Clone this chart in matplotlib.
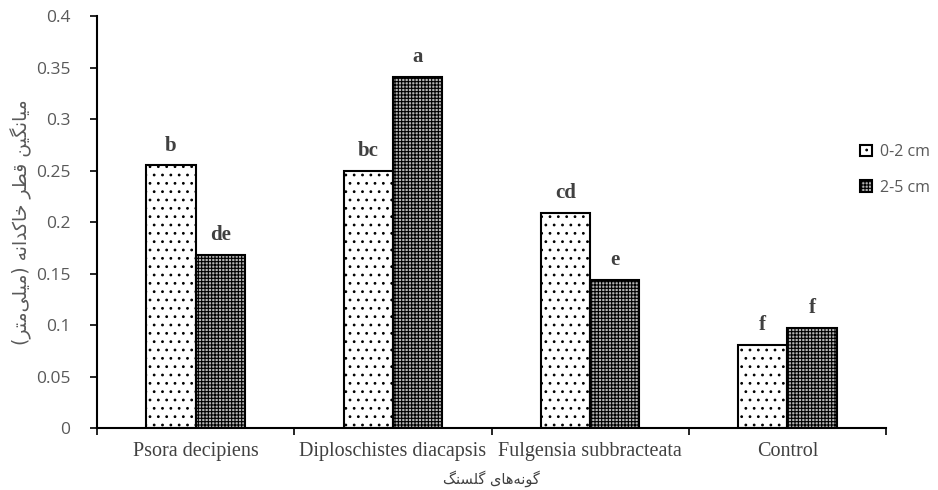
import matplotlib
matplotlib.use("Agg")
import matplotlib.pyplot as plt
import numpy as np

categories = ["Psora decipiens", "Diploschistes diacapsis", "Fulgensia subbracteata", "Control"]
series_names = ["0-2 cm", "2-5 cm"]
vals_02 = [0.255, 0.250, 0.209, 0.081]
vals_25 = [0.168, 0.341, 0.144, 0.097]
letters_02 = ["b", "bc", "cd", "f"]
letters_25 = ["de", "a", "e", "f"]
yticks = [0, 0.05, 0.1, 0.15, 0.2, 0.25, 0.3, 0.35, 0.4]
ytick_labels = ["0", "0.05", "0.1", "0.15", "0.2", "0.25", "0.3", "0.35", "0.4"]
ylabel_text = "میانگین قطر خاکدانه (میلی\u200cمتر)"
xlabel_text = "گونه\u200cهای گلسنگ"

# --- minimal Persian shaping (presentation forms) ---
FORMS = {
    # char: (iso, final, initial, medial)  None for initial/medial => right-joining
    "ا": ("\uFE8D", "\uFE8E", None, None),
    "د": ("\uFEA9", "\uFEAA", None, None),
    "ر": ("\uFEAD", "\uFEAE", None, None),
    "و": ("\uFEED", "\uFEEE", None, None),
    "م": ("\uFEE1", "\uFEE2", "\uFEE3", "\uFEE4"),
    "ن": ("\uFEE5", "\uFEE6", "\uFEE7", "\uFEE8"),
    "ق": ("\uFED5", "\uFED6", "\uFED7", "\uFED8"),
    "ط": ("\uFEC1", "\uFEC2", "\uFEC3", "\uFEC4"),
    "خ": ("\uFEA5", "\uFEA6", "\uFEA7", "\uFEA8"),
    "ل": ("\uFEDD", "\uFEDE", "\uFEDF", "\uFEE0"),
    "ت": ("\uFE95", "\uFE96", "\uFE97", "\uFE98"),
    "ه": ("\uFEE9", "\uFEEA", "\uFEEB", "\uFEEC"),
    "ی": ("\uFBFC", "\uFBFD", "\uFBFE", "\uFBFF"),
    "ک": ("\uFB8E", "\uFB8F", "\uFB90", "\uFB91"),
    "گ": ("\uFB92", "\uFB93", "\uFB94", "\uFB95"),
    "س": ("\uFEB1", "\uFEB2", "\uFEB3", "\uFEB4"),
}


def shape(text):
    out = []
    n = len(text)
    for i, ch in enumerate(text):
        if ch not in FORMS:
            out.append(ch)
            continue
        f = FORMS[ch]
        prev = text[i - 1] if i > 0 else None
        nxt = text[i + 1] if i + 1 < n else None
        jp = prev in FORMS and FORMS[prev][2] is not None
        jn = f[2] is not None and nxt in FORMS
        if jp and jn:
            out.append(f[3])
        elif jp:
            out.append(f[1])
        elif jn:
            out.append(f[2])
        else:
            out.append(f[0])
    s = "".join(c for c in out if c != "\u200c")
    s = s[::-1]
    s = s.replace("(", "\x00").replace(")", "(").replace("\x00", ")")
    return s


plt.rcParams['hatch.linewidth'] = 0.8

fig = plt.figure(figsize=(9.38, 4.90), dpi=100)
ax = fig.add_axes([97 / 938, 62 / 490, (886 - 97) / 938, (428 - 16) / 490])

x = np.arange(len(categories))
w = 0.25
b1 = ax.bar(x - w / 2, vals_02, w, facecolor="white", edgecolor="black",
            linewidth=1.5, hatch="..", label=series_names[0])
b2 = ax.bar(x + w / 2, vals_25, w, facecolor="#b4b4b4", edgecolor="black",
            linewidth=1.5, hatch="+++++", label=series_names[1])

for xi, v, t in zip(x - w / 2, vals_02, letters_02):
    ax.annotate(t, (xi, v), xytext=(0, 7), textcoords="offset points",
                ha="center", va="bottom", fontsize=15, fontweight="bold",
                family="Liberation Serif", color="#404040")
for xi, v, t in zip(x + w / 2, vals_25, letters_25):
    ax.annotate(t, (xi, v), xytext=(0, 7), textcoords="offset points",
                ha="center", va="bottom", fontsize=15, fontweight="bold",
                family="Liberation Serif", color="#404040")

ax.set_xlim(-0.5, len(categories) - 0.5)
ax.set_ylim(0, 0.4)
ax.set_yticks(yticks)
ax.set_yticklabels(ytick_labels, family="Open Sans", fontsize=12.5, color="#595959")
ax.set_xticks(x)
ax.set_xticklabels(categories, family="Liberation Serif", fontsize=14.5, color="#404040")
ax.tick_params(axis="x", length=0, pad=10)
ax.set_xticks(np.arange(len(categories) + 1) - 0.5, minor=True)
ax.tick_params(axis="x", which="minor", length=5, width=1.2, direction="out")
ax.tick_params(axis="y", length=5, width=1.2, direction="out", pad=14)

for s in ["top", "right"]:
    ax.spines[s].set_visible(False)
for s in ["left", "bottom"]:
    ax.spines[s].set_linewidth(1.5)
    ax.spines[s].set_color("black")

ax.set_ylabel(shape(ylabel_text), family="DejaVu Sans", fontsize=13.5, color="#595959", labelpad=3)
ax.set_xlabel(shape(xlabel_text), family="DejaVu Sans", fontsize=10.5, color="#404040", labelpad=7)

leg = ax.legend(loc="center left", bbox_to_anchor=(846 / 938, 1 - 170 / 490),
                bbox_transform=fig.transFigure, frameon=False,
                prop={"family": "Open Sans", "size": 11.5}, labelcolor="#595959",
                handlelength=0.7, handleheight=0.7, handletextpad=0.5, labelspacing=1.2)

fig.savefig("out.png", dpi=100)
